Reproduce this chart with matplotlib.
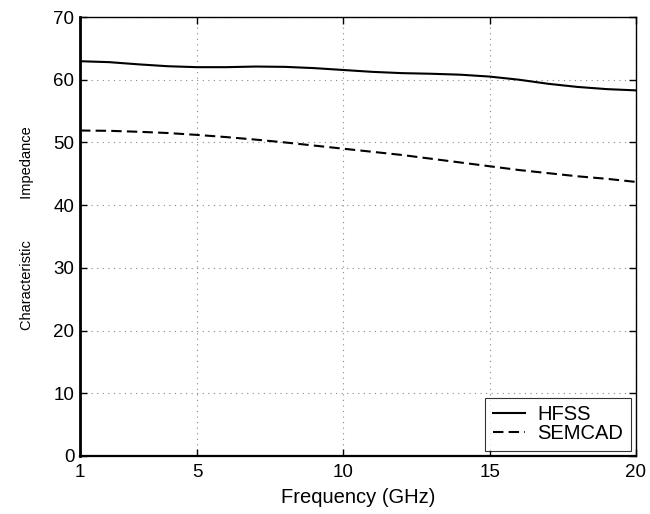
import matplotlib
matplotlib.use("Agg")
import matplotlib.pyplot as plt

freq = [1, 2, 3, 4, 5, 6, 7, 8, 9, 10, 11, 12, 13, 14, 15, 16, 17, 18, 19, 20]
hfss = [62.95, 62.8, 62.45, 62.15, 62.0, 62.0, 62.1, 62.05, 61.85, 61.55,
        61.25, 61.05, 60.95, 60.8, 60.5, 60.0, 59.35, 58.85, 58.5, 58.3]
semcad = [51.9, 51.85, 51.7, 51.5, 51.2, 50.85, 50.45, 50.0, 49.5, 49.0,
          48.5, 48.0, 47.4, 46.8, 46.2, 45.6, 45.1, 44.6, 44.2, 43.7]
xticks = [1, 5, 10, 15, 20]
yticks = [0, 10, 20, 30, 40, 50, 60, 70]

plt.rcParams['font.family'] = ['Liberation Sans', 'DejaVu Sans']
plt.rcParams['font.size'] = 13

fig = plt.figure(figsize=(6.5, 5.14), dpi=100)
ax = fig.add_axes([80/650, 1-456/514, (636-80)/650, (456-17)/514])

ax.plot(freq, hfss, color='black', lw=1.5, ls='-', label='HFSS')
ax.plot(freq, semcad, color='black', lw=1.5, ls=(0, (5, 2.5)), label='SEMCAD')

ax.set_xlim(1, 20)
ax.set_ylim(0, 70)
ax.set_xticks(xticks)
ax.set_yticks(yticks)
ax.grid(True, color='#888888', ls=(0, (1, 4)), lw=0.8)
ax.tick_params(direction='in', top=True, right=True, length=5, width=1, labelsize=13.5)
ax.tick_params(axis='x', pad=6)
ax.tick_params(axis='y', pad=4)
for s in ax.spines.values():
    s.set_linewidth(1.0)
ax.spines['left'].set_linewidth(2.0)
ax.spines['bottom'].set_linewidth(1.6)

ax.set_xlabel('Frequency (GHz)', fontsize=14.5)
ax.xaxis.set_label_coords(0.5, -0.072)
ax.set_ylabel('Characteristic          Impedance', fontsize=10.5)
ax.yaxis.set_label_coords(-0.083, 0.518)

leg = ax.legend(loc='lower right', frameon=True, fancybox=False, fontsize=14.5,
                borderaxespad=0.25, handlelength=1.6, handletextpad=0.6,
                borderpad=0.38, labelspacing=0.0)
leg.get_frame().set_edgecolor('black')
leg.get_frame().set_linewidth(0.8)

fig.savefig('out.png', dpi=100)
